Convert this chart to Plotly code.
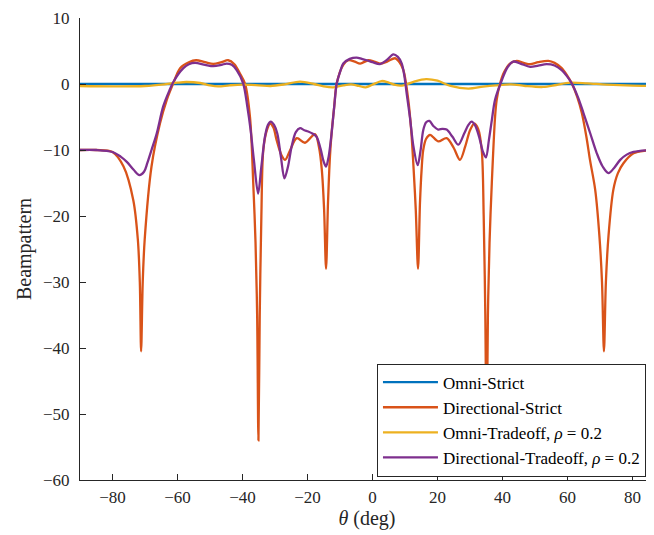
import plotly.graph_objects as go

# ---------------- data ----------------
theta_omni_strict = [-90, 90]
bp_omni_strict = [0.0, 0.0]

theta_dir_strict = [
    -90, -85, -80, -76.6, -73.6, -72.2, -71.6, -71.2, -70.7, -70.1, -68, -65.4, -63.3, -61.3,
    -59.2, -56.5, -54.3, -51.5, -49, -46.5, -44.4, -42.5, -40.8, -39.2, -37.7, -36.7, -36.0,
    -35.5, -35.1, -34.7, -34.2, -33.6, -32.5, -31.5, -30.5, -29.5, -28, -26.9, -25.5, -23.3,
    -20.8, -17.7, -16.5, -15.6, -14.9, -14.3, -13.7, -13.1, -12.6, -11.8, -11, -9, -7.4, -5.5,
    -3.8, -1.3, 0.5, 2.3, 4.5, 6.9, 8.3, 9.5, 11, 11.9, 12.6, 13.3, 14, 14.6, 15.1, 15.6, 16.5,
    17.7, 20.2, 22.8, 25, 26.9, 28.5, 30, 31.3, 32.5, 33.6, 34.2, 34.7, 35.1, 35.5, 36, 36.7,
    37.7, 38.2, 39.2, 40.5, 42.3, 44.4, 46.5, 48.5, 51, 54.1, 56, 58.2, 60, 61.3, 63, 64.4,
    65.8, 66.9, 68.5, 69.8, 70.6, 71.2, 71.8, 72.6, 74.1, 75.5, 77.2, 80.3, 84, 90,
]
bp_dir_strict = [
    -10.0, -10.0, -10.3, -12.5, -17.6, -23.6, -30, -40.5, -30, -23.6, -12.5, -6, -2.4, 0.1,
    2.4, 3.3, 3.6, 3.3, 3.05, 3.3, 3.6, 3.0, 1.6, 0.0, -5, -15, -24,
    -35, -54, -35, -20, -10, -7, -6.0, -6.6, -8.5, -10.8, -11.5, -10.2, -8.2,
    -8.9, -7.6, -9.5, -13, -19, -28, -18, -11, -7.5, -3.5, 0.1, 2.9, 3.6, 3.4,
    3.1, 3.6, 3.4, 3.1, 3.4, 3.9, 3.3, 2.1, -2.4, -7, -12.5, -19, -28, -18, -13, -10, -8.3,
    -7.7, -8.7, -8.2, -9.7, -11.5, -9.5, -7, -6.0, -6.8, -10, -20, -35, -55, -35, -24, -15,
    -5, -2.4, 0.0, 1.8, 3.1, 3.5, 3.2, 3.0, 3.3, 3.5, 3.2, 2.4, 1.2, 0.1, -2.0, -4.4,
    -8, -11.5, -16, -23, -30, -40.5, -30, -23, -16, -13.5, -12, -10.5, -10.1, -10.0,
]

theta_omni_trade = [
    -90, -80, -70, -64, -60, -57.3, -53, -50, -47.5, -44, -40, -35, -31.4, -27, -22.3, -18,
    -15, -12.1, -9, -6.6, -4.2, -2.1, 0, 2.8, 5, 7, 9.5, 13, 16.5, 20, 24, 29.5, 34, 38,
    42.6, 47, 52.5, 56.5, 60.7, 66, 72, 80, 90,
]
bp_omni_trade = [
    -0.3, -0.35, -0.3, -0.05, 0.2, 0.3, 0.15, -0.2, -0.35, -0.2, -0.1, -0.2, -0.3, -0.05, 0.35, 0.0,
    -0.35, -0.5, -0.2, -0.05, -0.3, -0.5, -0.1, 0.45, 0.2, -0.15, -0.2, 0.4, 0.75, 0.5, -0.3, -0.7, -0.4, -0.2,
    -0.05, -0.3, -0.45, -0.15, 0.2, 0.1, -0.1, -0.25, -0.3,
]

theta_dir_trade = [
    -90, -85, -80, -77.5, -75.6, -73.5, -71.7, -70.3, -69.3, -68, -66.4, -64.4, -62.5, -61.3,
    -58.2, -56.5, -54.6, -51.5, -49, -46.5, -44.9, -43.3, -41.8, -39.8, -38.5, -37.5, -36.5,
    -35.2, -34.2, -33.1, -32.2, -31.3, -30.3, -29.3, -28.2, -27.1, -26, -24.9, -23.6, -22.3,
    -21, -19.8, -18.5, -17.2, -16, -15, -14.3, -13.5, -12.6, -11.8, -11, -10, -9, -7, -4.9,
    -3.3, -1.8, 0, 2.3, 4.3, 6.4, 7.8, 9, 9.8, 10.5, 11.5, 12.6, 13.9, 14.8, 15.6, 16.5, 17.5,
    18.8, 20.2, 21.5, 22.8, 24.6, 26.4, 28.2, 29.5, 30.5, 31.6, 32.8, 34, 34.9, 35.8, 36.7,
    37.7, 39.8, 41.5, 43.3, 45.5, 48.5, 51, 53.6, 56, 58.2, 59.8, 61.3, 63.2, 64.9, 67, 69,
    70.8, 72.6, 74.5, 76.2, 78.2, 80.3, 86.4, 90,
]
bp_dir_trade = [
    -10.0, -10.0, -10.3, -11, -11.8, -13, -13.8, -13.3, -12, -10, -7.5, -3.4, -1, 0.3,
    2.4, 3.0, 3.2, 2.9, 2.7, 2.9, 3.1, 2.9, 2.1, 0.1, -3.5, -7, -11.5,
    -16.6, -12.5, -8, -6.2, -5.7, -6.2, -7.5, -11, -14.3, -12.5, -9.5, -7.3, -6.7,
    -7.0, -7.2, -7.5, -8, -9.8, -11.8, -12.5, -11, -7.5, -3.5, 0.1, 1.8, 3.1, 3.8, 4.0,
    3.8, 3.6, 3.3, 3.0, 3.6, 4.5, 4.1, 3.1, 1.2, -1.4, -5, -9.5, -12.3, -10, -7, -5.8, -5.6,
    -6.4, -6.9, -6.8, -6.9, -8, -9.2, -7.5, -6.2, -5.7, -6.3, -8, -10.3, -11.1, -8.5, -5.5,
    -2.4, 0.6, 2.5, 3.4, 3.1, 2.6, 2.8, 3.0, 2.8, 2.1, 1.2, 0.1, -2.0, -4.4, -7.5, -10.5,
    -12.5, -13.5, -12.6, -11.5, -10.7, -10.3, -10.0, -10.0,
]

x_ticks = [-80, -60, -40, -20, 0, 20, 40, 60, 80]
y_ticks = [-60, -50, -40, -30, -20, -10, 0, 10]

series = [
    ("Omni-Strict", theta_omni_strict, bp_omni_strict, "#0072BD"),
    ("Directional-Strict", theta_dir_strict, bp_dir_strict, "#D95319"),
    ("Omni-Tradeoff, <i>ρ</i> = 0.2", theta_omni_trade, bp_omni_trade, "#EDB120"),
    ("Directional-Tradeoff, <i>ρ</i> = 0.2", theta_dir_trade, bp_dir_trade, "#7E2F8E"),
]

FONT = "Liberation Serif"
AX = "#262626"

fig = go.Figure()
for name, x, y, c in series:
    fig.add_trace(go.Scatter(
        x=x, y=y, name=name, mode="lines",
        line=dict(color=c, width=2.3, shape="spline", smoothing=0.9),
    ))

axis_common = dict(
    showgrid=False, zeroline=False, showline=True, linecolor=AX, linewidth=1,
    ticks="inside", ticklen=6, tickwidth=1, tickcolor=AX, mirror=False,
    tickfont=dict(family=FONT, size=17, color=AX),
)

# The page adds an 8px body margin, so the layout is offset by 8px inside the figure.
fig.update_layout(
    width=654, height=535,
    margin=dict(l=72, r=8, t=10, b=63, autoexpand=False),
    paper_bgcolor="white", plot_bgcolor="white",
    font=dict(family=FONT, color=AX),
    xaxis=dict(range=[-90, 86.6], tickvals=x_ticks, ticklabelstandoff=2,
               title=dict(text="<i>θ</i> (deg)", font=dict(family=FONT, size=20, color=AX), standoff=4),
               **axis_common),
    yaxis=dict(range=[-60, 10], tickvals=y_ticks, ticklabelstandoff=6,
               title=dict(text="Beampattern", font=dict(family=FONT, size=20, color=AX), standoff=6),
               **axis_common),
    legend=dict(
        x=0.986, y=0.252, xanchor="right", yanchor="top",
        bgcolor="white", bordercolor=AX, borderwidth=1,
        font=dict(family=FONT, size=17, color="black"),
        tracegroupgap=0, itemwidth=55,
    ),
    showlegend=True,
)

fig.write_html("out.html")
